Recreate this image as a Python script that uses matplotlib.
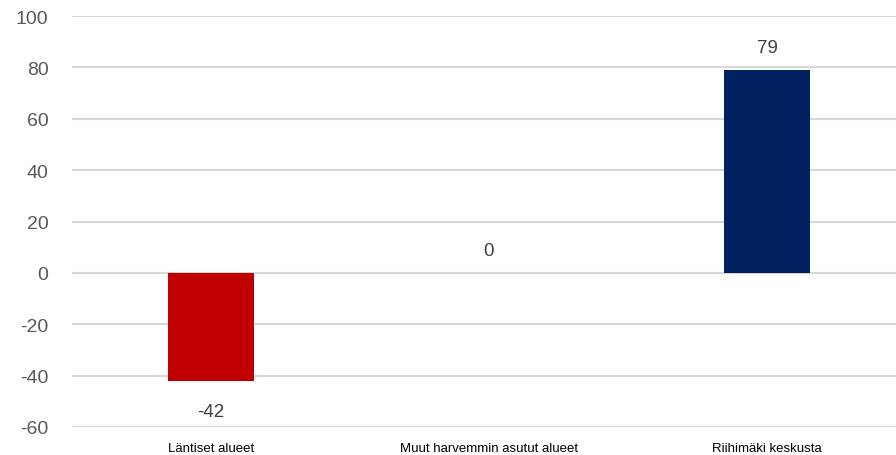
import matplotlib.pyplot as plt

# Data
categories = ['Läntiset alueet', 'Muut harvemmin asutut alueet', 'Riihimäki keskusta']
values = [-42, 0, 79]
colors = ['#C00000', '#C00000', '#002060']
y_ticks = [-60, -40, -20, 0, 20, 40, 60, 80, 100]

plt.rcParams['font.family'] = ['Liberation Sans', 'DejaVu Sans']
plt.rcParams['axes.unicode_minus'] = False

fig = plt.figure(figsize=(8.96, 4.56), dpi=100)
ax = fig.add_axes([72 / 896, 1 - 428 / 456, 834 / 896, (428 - 17) / 456])

x = range(len(categories))
bars = ax.bar(x, values, width=0.31, color=colors, zorder=3)

for xi, v in zip(x, values):
    off = 16 if v >= 0 else -22
    ax.annotate(str(v), (xi, v), xytext=(0, off), textcoords='offset points',
                ha='center', va='center', fontsize=13.5, color='#404040')

ax.set_xlim(-0.5, 2.5)
ax.set_ylim(-60, 100)
ax.set_yticks(y_ticks)
ax.set_xticks(list(x))
ax.set_xticklabels(categories, fontsize=9.5, color='#000000')
ax.tick_params(axis='y', length=0, pad=17, labelsize=14, labelcolor='#595959')
ax.tick_params(axis='x', length=0, pad=11)
ax.grid(axis='y', color='#D6D6D6', linewidth=1.5, zorder=0)
for s in ax.spines.values():
    s.set_visible(False)

plt.savefig('out.png', dpi=100)
